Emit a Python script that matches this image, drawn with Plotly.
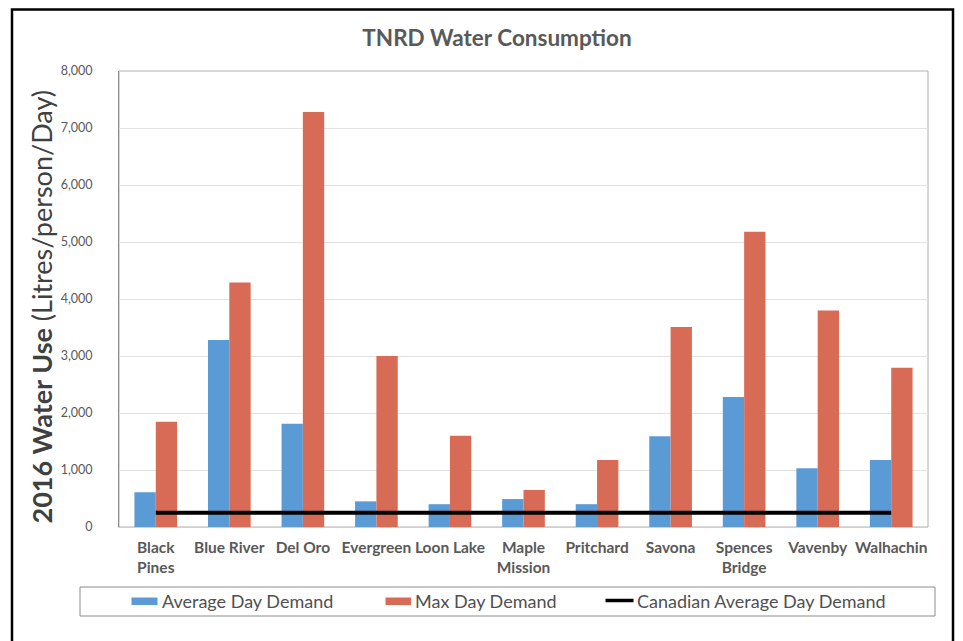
import plotly.graph_objects as go

categories = ["Black<br>Pines", "Blue River", "Del Oro", "Evergreen", "Loon Lake",
              "Maple<br>Mission", "Pritchard", "Savona", "Spences<br>Bridge", "Vavenby", "Walhachin"]
avg_day = [610, 3280, 1810, 450, 400, 490, 400, 1590, 2280, 1030, 1175]
max_day = [1845, 4290, 7280, 3000, 1600, 650, 1175, 3510, 5180, 3800, 2795]
canadian_avg = [251] * len(categories)
y_ticks = [0, 1000, 2000, 3000, 4000, 5000, 6000, 7000, 8000]
series_names = ["Average Day Demand", "Max Day Demand", "Canadian Average Day Demand"]
series_colors = ["#5B9BD5", "#D86B55", "black"]

FONT = "Lato, sans-serif"
GREY = "#595959"

# page is offset by the 8px body margin
OFF = 8
W, H = 963, 641
PL, PR, PT, PB = 119, 928, 71, 527
L = PL - OFF
T = PT - OFF
R = W - (PR - OFF)
B = H - (PB - OFF)
pw, ph = W - L - R, H - T - B

def px_x(x):
    return (x - OFF - L) / pw

def px_y(y):
    return (H - B - (y - OFF)) / ph

fig = go.Figure()
fig.add_trace(go.Bar(x=categories, y=avg_day, name=series_names[0],
                     marker=dict(color=series_colors[0], line=dict(width=0))))
fig.add_trace(go.Bar(x=categories, y=max_day, name=series_names[1],
                     marker=dict(color=series_colors[1], line=dict(width=0))))
fig.add_trace(go.Scatter(x=categories, y=canadian_avg, name=series_names[2],
                         mode="lines", line=dict(color=series_colors[2], width=4)))

# custom legend (swatches + labels), page pixel positions
sw_x = [(131.5, 157.5), (385.5, 411), (605.5, 633.5)]
txt_x = [161, 414, 636]
leg_y = 601

shapes = [
    dict(type="rect", xref="paper", yref="paper", x0=0, x1=1, y0=0, y1=1,
         line=dict(color="#b0b0b0", width=1), layer="below"),
    dict(type="rect", xref="paper", yref="paper", x0=px_x(80), x1=px_x(935),
         y0=px_y(616), y1=px_y(587), line=dict(color="#8c8c8c", width=1)),
    dict(type="rect", xref="paper", yref="paper", x0=px_x(12), x1=px_x(953),
         y0=px_y(680), y1=px_y(9.5), line=dict(color="black", width=2.5)),
]
for i, (a, b) in enumerate(sw_x):
    if i < 2:
        shapes.append(dict(type="rect", xref="paper", yref="paper",
                           x0=px_x(a), x1=px_x(b), y0=px_y(605), y1=px_y(597.5),
                           fillcolor=series_colors[i], line=dict(width=0)))
    else:
        shapes.append(dict(type="line", xref="paper", yref="paper",
                           x0=px_x(a), x1=px_x(b), y0=px_y(600.5), y1=px_y(600.5),
                           line=dict(color=series_colors[i], width=3.5)))

annotations = [
    dict(text=series_names[i], xref="paper", yref="paper", x=px_x(txt_x[i]),
         y=px_y(leg_y), xanchor="left", yanchor="middle", showarrow=False,
         borderpad=0, font=dict(family=FONT, size=18, color="#505050"))
    for i in range(3)
]
# y-axis title as a rotated annotation
annotations.append(dict(text="<b>2016 Water Use</b> (Litres/person/Day)",
                        xref="paper", yref="paper", x=px_x(41), y=px_y(307.5),
                        xanchor="center", yanchor="middle", textangle=-90,
                        showarrow=False, borderpad=0,
                        font=dict(family=FONT, size=27, color="#404040")))

fig.update_layout(
    width=W, height=H,
    margin=dict(l=L, r=R, t=T, b=B, autoexpand=False),
    paper_bgcolor="white", plot_bgcolor="white",
    barmode="group", bargap=0.42, bargroupgap=0,
    font=dict(family=FONT, color=GREY),
    showlegend=False,
    title=dict(text="<b>TNRD Water Consumption</b>", x=px_x(497), xanchor="center",
               y=1 - (38 - OFF) / H, yanchor="middle", xref="paper",
               font=dict(family=FONT, size=22.5, color=GREY)),
    xaxis=dict(type="category", showgrid=False, showline=True, linecolor="#d0d0d0",
               linewidth=1, mirror=False, ticks="", tickangle=0, automargin=False,
               ticklabelstandoff=6,
               tickfont=dict(family=FONT, size=15.5, color=GREY),
               tickprefix="<b>", ticksuffix="</b>"),
    yaxis=dict(range=[0, 8000], tickvals=y_ticks, tickformat=",d",
               showgrid=True, gridcolor="#e3e3e3", gridwidth=1,
               showline=True, linecolor="#8c8c8c", linewidth=1, mirror=False,
               zeroline=False, ticks="", ticklabelstandoff=23, automargin=False,
               tickfont=dict(family=FONT, size=12.5, color=GREY),
               tickprefix="<b>", ticksuffix="</b>"),
    shapes=shapes,
    annotations=annotations,
)

fig.write_html("out.html")
